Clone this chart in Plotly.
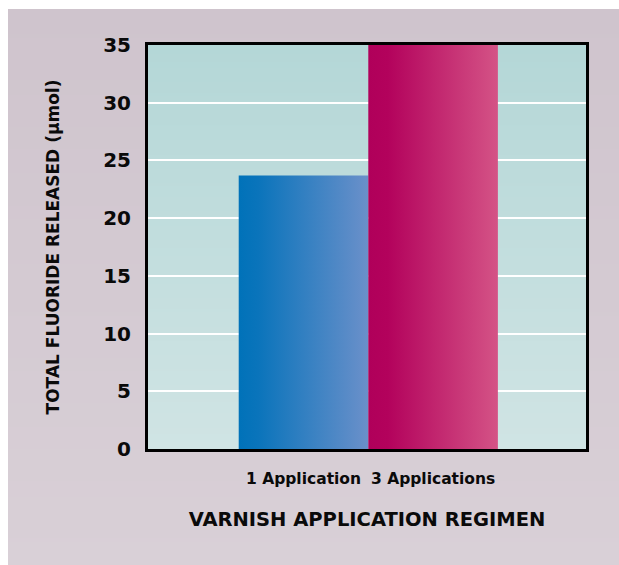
import base64
import struct
import zlib

import plotly.graph_objects as go

# ---- data -------------------------------------------------------------
categories = ["1 Application", "3 Applications"]
fluoride_umol = [23.7, 35.0]
y_tick_values = [0, 5, 10, 15, 20, 25, 30, 35]
y_tick_labels = ["0", "5", "10", "15", "20", "25", "30", "35"]

# ---- styling ----------------------------------------------------------
bar_scales = [
    [[0.0, "#0072b9"], [0.15, "#0a74bb"], [1.0, "#6b90ca"]],
    [[0.0, "#b0005a"], [0.15, "#b3025c"], [1.0, "#d45386"]],
]
BAR_WIDTH = 1.0
FONT = dict(family="'DejaVu Sans', sans-serif", color="#0a0a0a", weight="bold")

W, H = 619, 565
M_L, M_R, M_T, M_B = 148, 33, 45, 116


def gradient_png(top_rgb, bottom_rgb, n=256):
    """1-pixel-wide vertical gradient encoded as a PNG data URI."""
    raw = b""
    for i in range(n):
        t = i / (n - 1)
        px = bytes(round(a + (b - a) * t) for a, b in zip(top_rgb, bottom_rgb))
        raw += b"\x00" + px

    def chunk(tag, data):
        body = tag + data
        return struct.pack(">I", len(data)) + body + struct.pack(">I", zlib.crc32(body) & 0xFFFFFFFF)

    png = (
        b"\x89PNG\r\n\x1a\n"
        + chunk(b"IHDR", struct.pack(">IIBBBBB", 1, n, 8, 2, 0, 0, 0))
        + chunk(b"IDAT", zlib.compress(raw))
        + chunk(b"IEND", b"")
    )
    return "data:image/png;base64," + base64.b64encode(png).decode()


fig = go.Figure()

# bars drawn as filled rectangles so each can carry a horizontal gradient
for i, (cat, val) in enumerate(zip(categories, fluoride_umol)):
    x0, x1 = i - BAR_WIDTH / 2, i + BAR_WIDTH / 2
    fig.add_trace(
        go.Scatter(
            x=[x0, x1, x1, x0, x0],
            y=[0, 0, val, val, 0],
            mode="lines",
            fill="toself",
            fillgradient=dict(type="horizontal", colorscale=bar_scales[i]),
            line=dict(width=0),
            name=cat,
            hoverinfo="skip",
            showlegend=False,
        )
    )

# panel geometry in paper units (panel spans from x=8px, y=9px to the page edge)
pw, ph = W - M_L - M_R, H - M_T - M_B
panel_x = (8 - M_L) / pw
panel_y = (H - M_B - 9) / ph

fig.update_layout(
    width=W,
    height=H,
    margin=dict(l=M_L, r=M_R, t=M_T, b=M_B, pad=0),
    paper_bgcolor="white",
    plot_bgcolor="rgba(0,0,0,0)",
    showlegend=False,
    font=FONT,
    images=[
        dict(
            source=gradient_png((207, 196, 205), (217, 208, 215)),
            xref="paper", yref="paper",
            x=panel_x, y=panel_y,
            sizex=(W - 8) / pw, sizey=(H - 9) / ph,
            xanchor="left", yanchor="top",
            sizing="stretch", layer="below",
        ),
        dict(
            source=gradient_png((180, 215, 215), (208, 228, 228)),
            xref="x domain", yref="y domain",
            x=0, y=1, sizex=1, sizey=1,
            xanchor="left", yanchor="top",
            sizing="stretch", layer="below",
        ),
    ],
    xaxis=dict(
        range=[-1.2, 2.18],
        tickvals=list(range(len(categories))),
        ticktext=categories,
        showgrid=False,
        zeroline=False,
        showline=True,
        mirror=True,
        linewidth=3,
        linecolor="black",
        ticks="",
        ticklabelstandoff=13,
        tickfont=dict(size=15.5, **FONT),
        title=dict(
            text="VARNISH APPLICATION REGIMEN",
            font=dict(size=19.5, **FONT),
            standoff=26,
        ),
    ),
    yaxis=dict(
        range=[0, 35],
        tickvals=y_tick_values,
        ticktext=y_tick_labels,
        showgrid=True,
        gridcolor="white",
        gridwidth=2,
        zeroline=False,
        showline=True,
        mirror=True,
        linewidth=3,
        linecolor="black",
        ticks="",
        ticklabelstandoff=10,
        tickfont=dict(size=20, **FONT),
        title=dict(
            text="TOTAL FLUORIDE RELEASED (µmol)",
            font=dict(size=17, **FONT),
            standoff=40,
        ),
    ),
)

fig.write_html("out.html")
